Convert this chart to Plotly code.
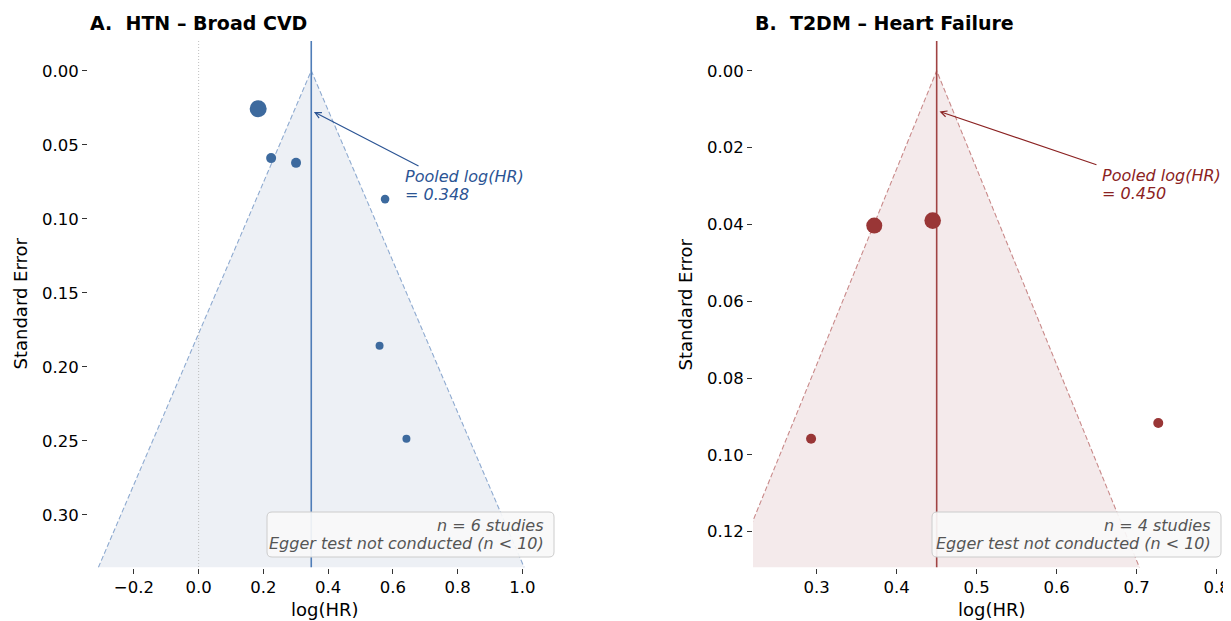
import plotly.graph_objects as go

# ---------------- data ----------------
htn_loghr = [0.184, 0.224, 0.301, 0.576, 0.559, 0.642]
htn_se = [0.0257, 0.0590, 0.0622, 0.0867, 0.1858, 0.2486]
htn_pooled = 0.348

t2dm_loghr = [0.372, 0.445, 0.293, 0.727]
t2dm_se = [0.0403, 0.0390, 0.0958, 0.0917]
t2dm_pooled = 0.450

titles = ["A.\u00a0 HTN \u2013 Broad CVD", "B.\u00a0 T2DM \u2013 Heart Failure"]
n_studies = [6, 4]

# ---------------- style ----------------
OFF = 8  # page body margin
W, H = 1231 - OFF, 621 - OFF
FONT = "DejaVu Sans"
htn_sizes = [17, 10, 10, 8.6, 8, 8]
t2dm_sizes = [16, 16.6, 10, 10]

panels = [
    dict(x=htn_loghr, se=htn_se, pooled=htn_pooled, sizes=htn_sizes,
         pt="#3d6a9e", line="#4f7db8", fill="#edf0f5", dash="#8eaad0", txt="#2b5494",
         xdom=(88, 561), xrange=(-0.3417, 1.1195), xdtick=0.2, ydtick=0.05,
         arrow_tail=(0.684, 0.0649), text_x=0.6315, text_y=(0.0716, 0.0838),
         zero=True, ylab_x=19.5, xlab_x=324.5,
         box=(267, 554, 512, 557), box_text_x=546),
    dict(x=t2dm_loghr, se=t2dm_se, pooled=t2dm_pooled, sizes=t2dm_sizes,
         pt="#993636", line="#a04343", fill="#f4eaeb", dash="#c98a8a", txt="#8b2222",
         xdom=(753, 1229), xrange=(0.2204, 0.8154), xdtick=0.1, ydtick=0.02,
         arrow_tail=(0.6516, 0.0246), text_x=0.6541, text_y=(0.0272, 0.0319),
         zero=False, ylab_x=684.5, xlab_x=992,
         box=(932, 1221, 512, 557), box_text_x=1213),
]

fig = go.Figure()
annotations = []
shapes = []


def px(x):
    return (x - OFF) / W


def py(y):
    return 1 - (y - OFF) / H


for i, p in enumerate(panels):
    k = "" if i == 0 else str(i + 1)
    xa, ya = "x" + k, "y" + k
    se_max = 1.35 * max(p["se"])
    y_top = -0.06 * se_max
    pooled = p["pooled"]
    lo = pooled - 1.96 * se_max
    hi = pooled + 1.96 * se_max

    # funnel fill
    fig.add_trace(go.Scatter(x=[pooled, lo, hi, pooled], y=[0, se_max, se_max, 0],
                             mode="lines", fill="toself", fillcolor=p["fill"],
                             line=dict(width=0), hoverinfo="skip", showlegend=False,
                             xaxis=xa, yaxis=ya))
    # funnel dashed edges
    fig.add_trace(go.Scatter(x=[lo, pooled, hi], y=[se_max, 0, se_max], mode="lines",
                             line=dict(color=p["dash"], width=1.1, dash="5px,2.5px"),
                             hoverinfo="skip", showlegend=False, xaxis=xa, yaxis=ya))
    # zero reference
    if p["zero"]:
        fig.add_trace(go.Scatter(x=[0, 0], y=[y_top, se_max], mode="lines",
                                 line=dict(color="#b0b0b0", width=0.8, dash="1px,2px"),
                                 hoverinfo="skip", showlegend=False, xaxis=xa, yaxis=ya))
    # pooled line
    fig.add_trace(go.Scatter(x=[pooled, pooled], y=[y_top, se_max], mode="lines",
                             line=dict(color=p["line"], width=1.6),
                             hoverinfo="skip", showlegend=False, xaxis=xa, yaxis=ya))
    # studies
    fig.add_trace(go.Scatter(x=p["x"], y=p["se"], mode="markers",
                             marker=dict(color=p["pt"], size=p["sizes"], opacity=1,
                                         line=dict(width=0)),
                             showlegend=False, xaxis=xa, yaxis=ya))

    xd = (px(p["xdom"][0]), px(p["xdom"][1]))
    yd = (py(567.5), py(41))
    axis_common = dict(showgrid=False, zeroline=False, showline=False, ticks="outside",
                       ticklen=5, tickwidth=1, tickcolor="#333333",
                       tickfont=dict(family=FONT, size=16.5, color="#000000"))
    fig.update_layout(**{
        "xaxis" + k: dict(domain=list(xd), range=list(p["xrange"]), dtick=p["xdtick"],
                          tick0=0, tickformat=".1f", anchor=ya, **axis_common),
        "yaxis" + k: dict(domain=list(yd), range=[se_max, y_top], dtick=p["ydtick"],
                          tick0=0, tickformat=".2f", anchor=xa, **axis_common),
    })

    # arrow
    annotations.append(dict(x=pooled, y=0.08 * se_max, xref=xa, yref=ya,
                            ax=p["arrow_tail"][0], ay=p["arrow_tail"][1], axref=xa, ayref=ya,
                            text="", showarrow=True, arrowhead=5, arrowsize=1.0,
                            arrowwidth=1.2, arrowcolor=p["txt"], standoff=3))
    for line_txt, yv in zip(["Pooled log(HR)", "= %.3f" % pooled], p["text_y"]):
        annotations.append(dict(x=p["text_x"], y=yv, xref=xa, yref=ya, text="<i>%s</i>" % line_txt,
                                showarrow=False, xanchor="left", yanchor="middle",
                                font=dict(family=FONT, size=16, color=p["txt"])))

    # title
    annotations.append(dict(x=px(p["xdom"][0]), y=py(23), xref="paper", yref="paper",
                            text="<b>%s</b>" % titles[i], showarrow=False, xanchor="left",
                            yanchor="middle", font=dict(family=FONT, size=19, color="#000000")))
    # axis titles
    annotations.append(dict(x=px(p["ylab_x"]), y=py(304), xref="paper", yref="paper",
                            text="Standard Error", textangle=-90, showarrow=False,
                            xanchor="center", yanchor="middle",
                            font=dict(family=FONT, size=18, color="#000000")))
    annotations.append(dict(x=px(p["xlab_x"]), y=py(609), xref="paper", yref="paper",
                            text="log(HR)", showarrow=False, xanchor="center", yanchor="middle",
                            font=dict(family=FONT, size=18, color="#000000")))

    # Egger box (rounded)
    x0, x1, y0, y1 = p["box"]
    r = 5
    path = ("M {a},{b} L {c},{b} Q {x1},{b} {x1},{d} L {x1},{e} Q {x1},{f} {c},{f} "
            "L {a},{f} Q {x0},{f} {x0},{e} L {x0},{d} Q {x0},{b} {a},{b} Z").format(
        a=px(x0 + r), b=py(y0), c=px(x1 - r), d=py(y0 + r), e=py(y1 - r), f=py(y1),
        x0=px(x0), x1=px(x1))
    shapes.append(dict(type="path", path=path, xref="paper", yref="paper",
                       fillcolor="rgba(248,248,248,0.92)", line=dict(color="#cccccc", width=1),
                       layer="above"))
    for line_txt, yv in zip(["n = %d studies" % n_studies[i],
                             "Egger test not conducted (n &lt; 10)"], [525, 543]):
        annotations.append(dict(x=px(p["box_text_x"]), y=py(yv), xref="paper", yref="paper",
                                text="<i>%s</i>" % line_txt, showarrow=False,
                                xanchor="right", yanchor="middle",
                                font=dict(family=FONT, size=16, color="#555555")))

fig.update_layout(width=W, height=H, autosize=False,
                  margin=dict(l=0, r=0, t=0, b=0),
                  paper_bgcolor="white", plot_bgcolor="white",
                  font=dict(family=FONT),
                  annotations=annotations, shapes=shapes, showlegend=False)

fig.write_html("out.html")
